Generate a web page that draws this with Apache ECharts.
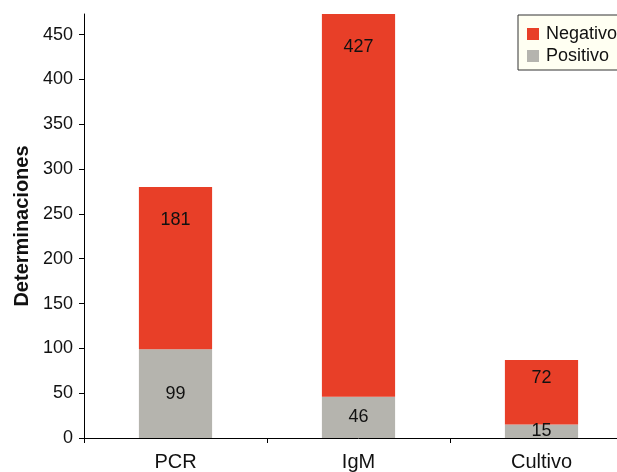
<!DOCTYPE html>
<html>
<head>
<meta charset="utf-8">
<script src="https://cdn.jsdelivr.net/npm/echarts@6/dist/echarts.min.js"></script>
<style>
  html, body { margin: 0; padding: 0; background: #ffffff; overflow: hidden; }
  #wrap { width: 617px; height: 472px; overflow: hidden; }
  /* the drawing surface is wider than the view: the plot runs past the right edge */
  #chart { width: 640px; height: 472px; }
</style>
</head>
<body>
<div id="wrap"><div id="chart"></div></div>
<script>
// Determinaciones por técnica diagnóstica
const categories = ['PCR', 'IgM', 'Cultivo'];
const positivo = [99, 46, 15];
const negativo = [181, 427, 72];
const yTicks = [0, 50, 100, 150, 200, 250, 300, 350, 400, 450];
const yMax = 473;

const FONT = 'Liberation Sans, Arial, Helvetica, sans-serif';

const chart = echarts.init(document.getElementById('chart'), null, { renderer: 'canvas' });

// Short red segments get their label closer to the top edge
const negData = negativo.map(v => ({
  value: v,
  label: { position: 'insideTop', distance: v > 100 ? 24 : 9 }
}));

chart.setOption({
  animation: false,
  backgroundColor: '#ffffff',
  textStyle: { fontFamily: FONT },
  grid: { left: 84, top: 14, bottom: 34, width: 549, containLabel: false },
  legend: {
    orient: 'vertical',
    left: 518,
    top: 15,
    padding: [10, 8, 5, 9],
    itemGap: 4,
    itemWidth: 12,
    itemHeight: 12,
    icon: 'rect',
    backgroundColor: '#fffff2',
    borderColor: '#333333',
    borderWidth: 1,
    data: ['Negativo', 'Positivo'],
    textStyle: { fontFamily: FONT, fontSize: 18, color: '#111111', padding: [0, 0, 0, 2] }
  },
  xAxis: {
    type: 'category',
    data: categories,
    boundaryGap: true,
    axisLine: { lineStyle: { color: '#000000', width: 1 } },
    axisTick: { show: true, alignWithLabel: false, length: 5, lineStyle: { color: '#000000' } },
    axisLabel: { color: '#111111', fontSize: 20, margin: 14, fontFamily: FONT },
    splitLine: { show: false }
  },
  yAxis: {
    type: 'value',
    min: 0,
    max: yMax,
    interval: 50,
    name: 'Determinaciones',
    nameLocation: 'middle',
    nameGap: 52,
    nameTextStyle: { fontFamily: FONT, fontSize: 20, fontWeight: 'bold', color: '#111111' },
    axisLine: { show: true, lineStyle: { color: '#000000', width: 1 } },
    axisTick: { show: true, length: 5, lineStyle: { color: '#000000' }, customValues: yTicks },
    axisLabel: { color: '#111111', fontSize: 18, margin: 11, fontFamily: FONT, customValues: yTicks },
    splitLine: { show: false }
  },
  series: [
    {
      name: 'Positivo',
      type: 'bar',
      stack: 'total',
      barWidth: '40%',
      itemStyle: { color: '#b5b4ae' },
      label: { show: true, position: 'inside', color: '#111111', fontSize: 18, fontFamily: FONT },
      data: positivo
    },
    {
      name: 'Negativo',
      type: 'bar',
      stack: 'total',
      barWidth: '40%',
      itemStyle: { color: '#e83f28' },
      label: { show: true, color: '#111111', fontSize: 18, fontFamily: FONT },
      data: negData
    }
  ]
});
</script>
</body>
</html>
